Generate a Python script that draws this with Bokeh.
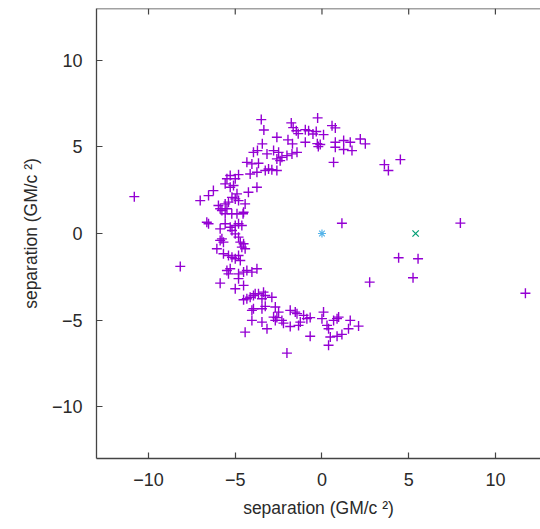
import math
from bokeh.plotting import figure
from bokeh.models import LinearAxis, FixedTicker, Range1d, ColumnDataSource, Span
from bokeh.embed import file_html
from bokeh.resources import INLINE

# purple "+" points (separation x, y)
pts_x = [
    -3.5, -3.35, -1.77, -0.25, -1.66, -1.48, -1.37, -0.77, -0.52, -0.33, 0.09, 0.58, 0.77,
    -2.6, -3.44, -1.96, -1.7, -0.96, -0.27, -0.21, -0.1, 0.77, 1.25, 1.63, 2.21, 2.5,
    0.77, 1.25, 1.73, 0.67, -3.95, -3.72, -3.17, -2.79, -2.5, -2.31, -2.02, -1.73, -1.44,
    -4.33, -4.04, -3.66, -2.6, -2.41, -3.27, -3.08, -2.89, -2.6, -4.14, -3.75, -5.29, -5.48,
    -5.0, -4.81, -5.58, -5.29, -5.1, -4.24, -3.75, -6.26, -6.54, -7.02, -0.96,
    -6.64, -6.54, -5.97, -5.87, -5.77, -5.58, -5.39, -5.48, -5.19, -5.0, -4.81, -4.9, -4.43,
    -4.52, -5.58, -5.2, -4.9, -4.55, -5.87, -5.58, -5.29, -5.0, -4.81, -4.62, -5.19, -5.0,
    -4.81, -5.77, -5.68, -5.87, -4.71, -4.52, -4.62, -4.43, -6.06, -5.68, -5.39, -5.19, -5.0,
    -4.81, -4.71, -5.48, -5.29, -5.39, -4.81, -4.52, -4.33, -4.04, -3.75, -4.81,
    -5.87, -5.0, -4.52, -4.52, -4.33, -4.14, -3.95, -3.66, -3.37, -3.27, -3.46, -2.89, -4.04,
    -3.46, -3.27, -4.04, -3.46, -3.17, -2.69, -2.5, -2.79, -2.6, -2.31, -2.69, -1.83, -1.44,
    -1.06, -0.87, -0.68, -2.22, -1.83, -1.35, -1.25, -4.43, -2.02, -0.68, 0.09, 0.0, 0.29,
    0.38, 0.67, 0.87, 1.63, 2.11, 1.53, 0.48, 0.87, 1.15, 0.38, -1.54, 0.96, -3.95, -3.85,
    1.15, 2.75, 3.6, 3.83, 4.52, 7.98, 4.42, 5.54, 5.25, 11.73, -10.82, -8.17,
]
pts_y = [
    6.58, 5.98, 6.39, 6.68, 6.12, 5.94, 5.77, 5.94, 5.75, 5.89, 5.71, 6.23, 6.1,
    5.56, 5.18, 5.41, 5.18, 5.27, 5.19, 5.02, 5.14, 5.27, 5.37, 5.27, 5.46, 5.18,
    4.98, 4.85, 4.79, 4.11, 4.69, 4.79, 4.6, 4.79, 4.69, 4.4, 4.5, 4.6, 4.69,
    4.11, 4.02, 4.06, 4.31, 4.21, 3.64, 3.73, 3.68, 3.64, 3.44, 3.54, 3.35, 3.16,
    3.16, 3.4, 2.87, 2.67, 2.77, 2.38, 2.67, 2.48, 2.19, 1.9, 6.0,
    0.65, 0.56, 1.62, 1.43, 1.33, 1.71, 1.81, 1.43, 2.09, 2.0, 1.9, 2.29, 1.71,
    1.23, 1.14, 1.14, 1.14, 1.14, 0.27, 0.56, 0.36, 0.46, 0.56, 0.46, 0.17, -0.02,
    -0.21, -0.31, -0.5, -0.4, -0.5, -0.59, -0.79, -0.88, -0.88, -1.17, -1.27, -1.37, -1.46,
    -1.27, -1.56, -2.14, -2.04, -2.33, -2.33, -2.23, -2.14, -2.23, -2.04, -2.61,
    -2.87, -3.19, -3.0, -3.83, -3.77, -3.68, -3.58, -3.48, -3.39, -3.58, -3.77, -3.68, -4.44,
    -4.35, -4.21, -5.02, -5.12, -5.5, -4.25, -4.54, -4.83, -4.86, -5.02, -5.02, -4.44, -4.63,
    -4.73, -4.92, -4.86, -5.18, -5.37, -5.31, -5.12, -5.7, -6.91, -5.94, -4.54, -4.92, -5.31,
    -5.5, -5.02, -4.92, -5.02, -5.35, -5.5, -5.98, -5.94, -5.83, -6.46, -4.54, -4.83, -4.35, -3.48,
    0.59, -2.81, 3.98, 3.64, 4.27, 0.6, -1.4, -1.46, -2.56, -3.45, 2.13, -1.9,
]
# the two masses
star_x = [0.0]
star_y = [0.0]
cross_x = [5.4]
cross_y = [0.0]

ticks = [-10, -5, 0, 5, 10]
label = "separation (GM/c ²)"

FONT = "Liberation Sans"
TXT = "#2a2a2a"
LINE = "#444444"

p = figure(width=540, height=529, x_range=Range1d(-13, 12.6), y_range=Range1d(-13, 13),
           output_backend="svg", toolbar_location=None,
           x_axis_location=None, y_axis_location=None,
           min_border_left=96, min_border_right=0, min_border_top=8, min_border_bottom=71)
p.grid.visible = False
p.outline_line_color = None
p.background_fill_color = "white"
p.border_fill_color = "white"


def style(ax):
    ax.ticker = FixedTicker(ticks=ticks)
    ax.major_tick_in = 6
    ax.major_tick_out = 0
    ax.minor_tick_line_color = None
    ax.axis_line_color = LINE
    ax.axis_line_width = 1.3
    ax.major_tick_line_color = LINE
    ax.major_tick_line_width = 1.2
    ax.major_label_text_font = FONT
    ax.major_label_text_color = TXT
    ax.major_label_text_font_size = "18px"
    ax.axis_label_text_font = FONT
    ax.axis_label_text_font_style = "normal"
    ax.axis_label_text_color = TXT
    ax.axis_label_text_font_size = "17.5px"


xb = LinearAxis(axis_label=label)
style(xb)
xb.major_label_standoff = 14
xb.axis_label_standoff = 9
p.add_layout(xb, "below")

yl = LinearAxis(axis_label=label)
style(yl)
yl.major_label_standoff = 14
yl.axis_label_standoff = 8
p.add_layout(yl, "left")

# top border with inward mirrored ticks
p.add_layout(Span(location=p.y_range.end, dimension="width", line_color=LINE, line_width=1.3))
p.ray(x=ticks, y=[p.y_range.end] * len(ticks), length=6, length_units="screen",
      angle=-math.pi / 2, line_color=LINE, line_width=1.2)

src = ColumnDataSource(dict(x=pts_x, y=pts_y))
p.scatter("x", "y", source=src, marker="cross", size=10, line_width=1.4, color="#9400d3")
p.scatter(star_x, star_y, marker="asterisk", size=8, line_width=1.2, color="#56b4e9")
p.scatter(cross_x, cross_y, marker="x", size=9, line_width=1.2, color="#009e73")

open("out.html", "w").write(file_html(p, INLINE))
